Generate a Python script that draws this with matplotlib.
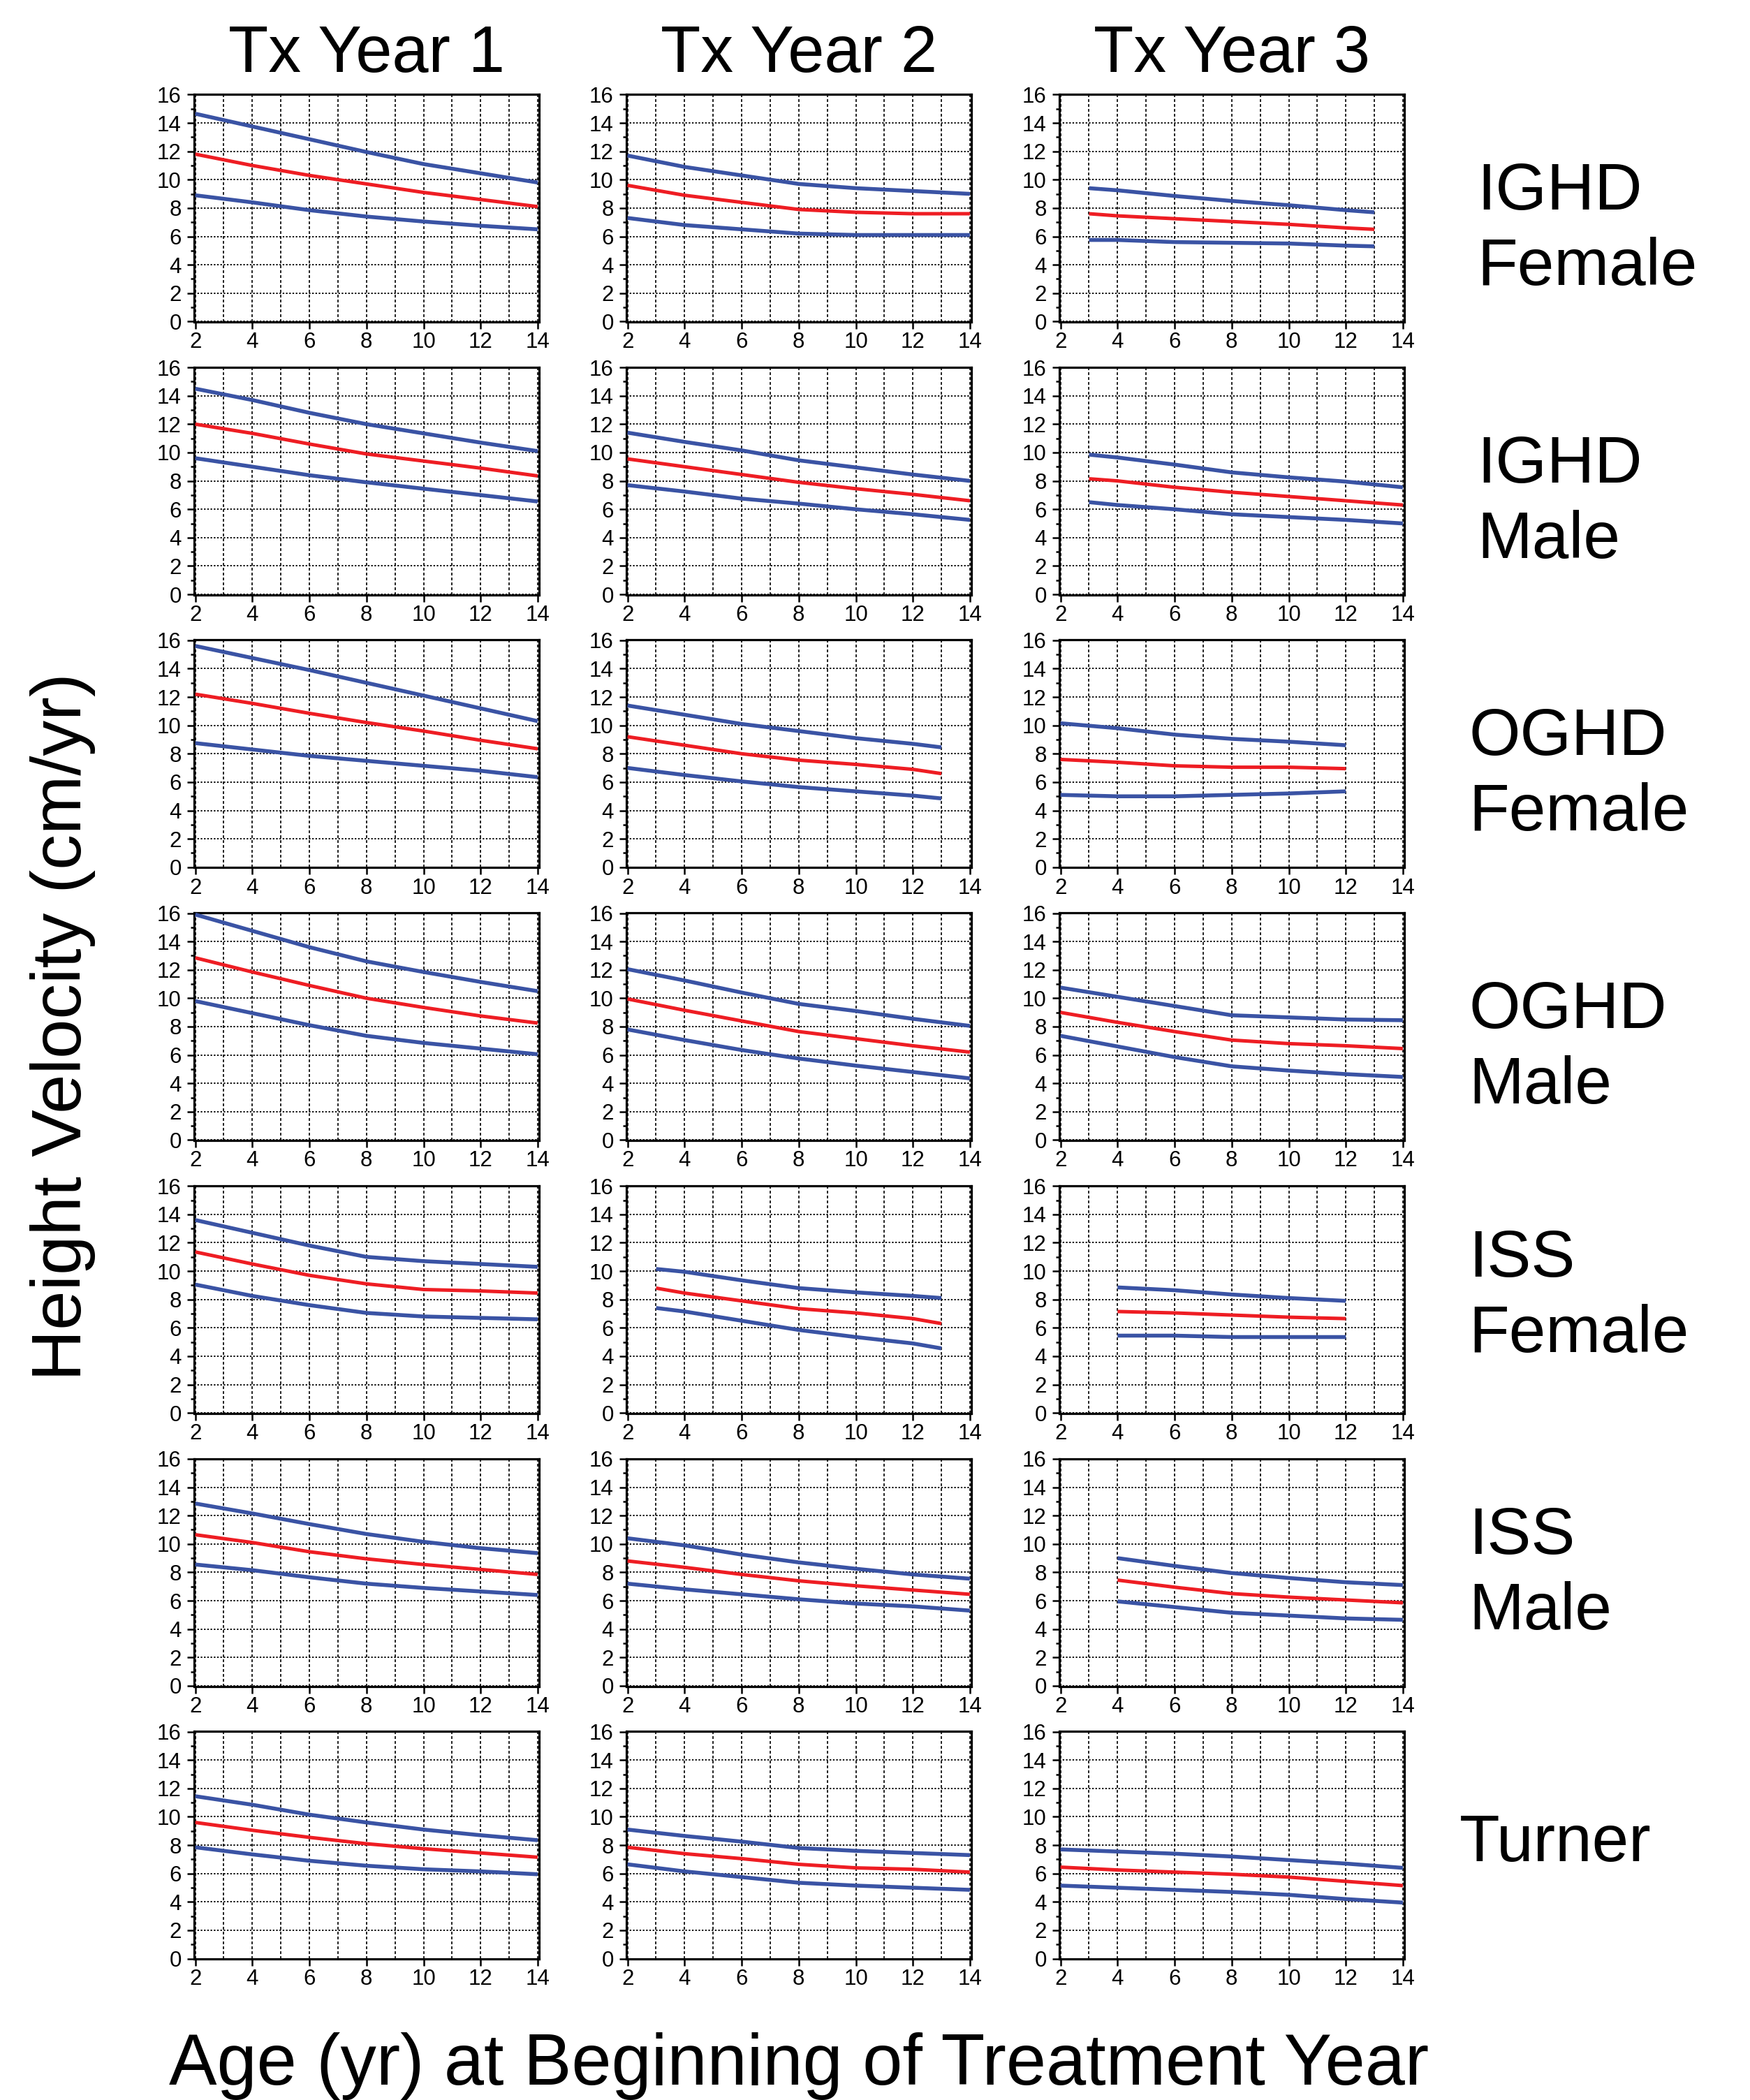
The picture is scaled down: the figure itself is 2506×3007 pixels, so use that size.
import numpy as np
import matplotlib
matplotlib.use("Agg")
import matplotlib.pyplot as plt
from matplotlib.ticker import MultipleLocator

plt.rcParams['font.family'] = ['Liberation Sans', 'DejaVu Sans']

# ---- data: (age, upper, median, lower) ----
A = [2, 4, 6, 8, 10, 12, 14]

# IGHD Female
ighd_f_1 = (A, [14.65, 13.75, 12.85, 11.95, 11.1, 10.45, 9.8], [11.8, 11.0, 10.3, 9.7, 9.1, 8.6, 8.1], [8.9, 8.4, 7.85, 7.4, 7.05, 6.75, 6.5])
ighd_f_2 = (A, [11.7, 10.9, 10.3, 9.7, 9.4, 9.2, 9.0], [9.6, 8.9, 8.4, 7.9, 7.7, 7.6, 7.6], [7.3, 6.8, 6.5, 6.2, 6.1, 6.1, 6.1])
ighd_f_3 = ([3, 4, 6, 8, 10, 12, 13], [9.4, 9.25, 8.85, 8.5, 8.2, 7.85, 7.7], [7.6, 7.45, 7.25, 7.05, 6.85, 6.6, 6.5], [5.75, 5.75, 5.6, 5.55, 5.5, 5.35, 5.3])
# IGHD Male
ighd_m_1 = (A, [14.5, 13.7, 12.8, 12.0, 11.35, 10.7, 10.1], [12.0, 11.35, 10.6, 9.9, 9.4, 8.9, 8.35], [9.6, 9.0, 8.4, 7.9, 7.45, 7.0, 6.55])
ighd_m_2 = (A, [11.4, 10.75, 10.15, 9.45, 8.95, 8.45, 8.0], [9.55, 9.0, 8.45, 7.9, 7.45, 7.05, 6.6], [7.7, 7.25, 6.75, 6.4, 6.0, 5.65, 5.25])
ighd_m_3 = ([3, 4, 6, 8, 10, 12, 14], [9.85, 9.65, 9.15, 8.6, 8.25, 7.95, 7.55], [8.15, 8.0, 7.55, 7.2, 6.9, 6.6, 6.3], [6.5, 6.3, 6.0, 5.65, 5.45, 5.25, 5.0])
# OGHD Female
oghd_f_1 = (A, [15.6, 14.75, 13.9, 13.0, 12.1, 11.2, 10.3], [12.2, 11.55, 10.85, 10.2, 9.6, 8.95, 8.35], [8.75, 8.3, 7.85, 7.5, 7.15, 6.8, 6.35])
oghd_f_2 = ([2, 4, 6, 8, 10, 12, 13], [11.4, 10.75, 10.1, 9.6, 9.1, 8.7, 8.45], [9.2, 8.6, 8.0, 7.55, 7.25, 6.9, 6.6], [7.0, 6.5, 6.05, 5.65, 5.35, 5.05, 4.85])
oghd_f_3 = ([2, 4, 6, 8, 10, 12], [10.15, 9.8, 9.35, 9.05, 8.85, 8.6], [7.6, 7.4, 7.15, 7.05, 7.05, 6.95], [5.1, 5.0, 5.0, 5.1, 5.2, 5.35])
# OGHD Male
oghd_m_1 = (A, [15.9, 14.75, 13.6, 12.6, 11.85, 11.15, 10.5], [12.85, 11.85, 10.9, 10.0, 9.35, 8.75, 8.25], [9.8, 8.95, 8.1, 7.35, 6.85, 6.45, 6.05])
oghd_m_2 = (A, [12.05, 11.25, 10.4, 9.6, 9.1, 8.55, 8.05], [9.95, 9.15, 8.4, 7.65, 7.15, 6.65, 6.2], [7.8, 7.05, 6.35, 5.75, 5.25, 4.8, 4.35])
oghd_m_3 = (A, [10.75, 10.1, 9.45, 8.8, 8.65, 8.5, 8.45], [9.0, 8.3, 7.65, 7.05, 6.8, 6.65, 6.45], [7.35, 6.6, 5.85, 5.2, 4.9, 4.65, 4.45])
# ISS Female
iss_f_1 = (A, [13.6, 12.7, 11.8, 11.0, 10.7, 10.5, 10.3], [11.35, 10.5, 9.7, 9.1, 8.7, 8.6, 8.45], [9.05, 8.25, 7.6, 7.05, 6.8, 6.7, 6.6])
iss_f_2 = ([3, 4, 6, 8, 10, 12, 13], [10.15, 9.95, 9.35, 8.8, 8.5, 8.25, 8.1], [8.8, 8.45, 7.9, 7.35, 7.05, 6.65, 6.3], [7.4, 7.15, 6.5, 5.85, 5.35, 4.9, 4.55])
iss_f_3 = ([4, 6, 8, 10, 12], [8.85, 8.65, 8.35, 8.1, 7.9], [7.15, 7.05, 6.9, 6.75, 6.65], [5.45, 5.45, 5.35, 5.35, 5.35])
# ISS Male
iss_m_1 = (A, [12.85, 12.15, 11.4, 10.7, 10.15, 9.7, 9.35], [10.65, 10.1, 9.45, 8.95, 8.55, 8.2, 7.85], [8.55, 8.15, 7.65, 7.2, 6.9, 6.65, 6.4])
iss_m_2 = (A, [10.4, 9.9, 9.25, 8.7, 8.25, 7.85, 7.55], [8.8, 8.35, 7.85, 7.4, 7.05, 6.75, 6.45], [7.2, 6.8, 6.45, 6.1, 5.8, 5.6, 5.3])
iss_m_3 = ([4, 6, 8, 10, 12, 14], [9.0, 8.45, 7.95, 7.6, 7.3, 7.1], [7.45, 6.95, 6.5, 6.25, 6.05, 5.85], [5.95, 5.55, 5.15, 4.95, 4.75, 4.65])
# Turner
turner_1 = (A, [11.45, 10.85, 10.15, 9.6, 9.1, 8.7, 8.35], [9.6, 9.05, 8.55, 8.1, 7.75, 7.45, 7.15], [7.85, 7.35, 6.9, 6.55, 6.3, 6.15, 5.95])
turner_2 = (A, [9.1, 8.65, 8.25, 7.8, 7.6, 7.45, 7.3], [7.85, 7.4, 7.05, 6.65, 6.4, 6.3, 6.1], [6.65, 6.15, 5.75, 5.35, 5.15, 5.0, 4.85])
turner_3 = (A, [7.7, 7.55, 7.4, 7.2, 6.95, 6.7, 6.4], [6.45, 6.25, 6.1, 5.95, 5.75, 5.45, 5.15], [5.15, 5.0, 4.85, 4.7, 4.5, 4.2, 3.95])

panels = [
    [ighd_f_1, ighd_f_2, ighd_f_3],
    [ighd_m_1, ighd_m_2, ighd_m_3],
    [oghd_f_1, oghd_f_2, oghd_f_3],
    [oghd_m_1, oghd_m_2, oghd_m_3],
    [iss_f_1, iss_f_2, iss_f_3],
    [iss_m_1, iss_m_2, iss_m_3],
    [turner_1, turner_2, turner_3],
]
col_titles = ["Tx Year 1", "Tx Year 2", "Tx Year 3"]
row_labels = [["IGHD", "Female"], ["IGHD", "Male"], ["OGHD", "Female"], ["OGHD", "Male"],
              ["ISS", "Female"], ["ISS", "Male"], ["Turner"]]

# ---- layout (pixels on the 2506x3007 canvas) ----
W, H = 2506, 3007
fig = plt.figure(figsize=(W / 100, H / 100), dpi=100)

col_left = [278, 897, 1517]
ax_w = 494
row_top = [135 + 390.7 * i for i in range(7)]
ax_h = 326
label_x = [2115, 2115, 2103, 2103, 2103, 2103, 2090]
label_base = [165, 165, 165, 165, 130, 136, 186]

BLUE = "#3a53a4"
RED = "#ee1d23"

for r in range(7):
    for c in range(3):
        ax = fig.add_axes([col_left[c] / W, 1 - (row_top[r] + ax_h) / H, ax_w / W, ax_h / H])
        age, hi, mid, lo = panels[r][c]
        ax.plot(age, hi, color=BLUE, lw=4.0, solid_capstyle='butt', zorder=3)
        ax.plot(age, lo, color=BLUE, lw=4.0, solid_capstyle='butt', zorder=3)
        ax.plot(age, mid, color=RED, lw=3.6, solid_capstyle='butt', zorder=4)

        ax.set_xlim(1.96, 14.05)
        ax.set_ylim(-0.03, 16.02)
        ax.xaxis.set_major_locator(MultipleLocator(2))
        ax.xaxis.set_minor_locator(MultipleLocator(1))
        ax.yaxis.set_major_locator(MultipleLocator(2))
        ax.yaxis.set_minor_locator(MultipleLocator(1))
        ax.tick_params(axis='both', which='major', direction='out', length=7.2, width=1.8,
                       labelsize=22.5, color='black')
        ax.tick_params(axis='x', which='major', pad=3)
        ax.tick_params(axis='y', which='major', pad=6)
        ax.tick_params(axis='x', which='minor', length=0)
        ax.tick_params(axis='y', which='minor', direction='out', length=3.6, width=1.8)
        ax.grid(axis='x', which='both', color='black', lw=1.2, ls=(0, (2.4, 1.8)))
        ax.grid(axis='y', which='major', color='black', lw=1.3, ls=(0, (1.3, 1.3)))
        ax.set_axisbelow(True)
        for sp in ax.spines.values():
            sp.set_linewidth(2.3)

    # row label
    for k, line in enumerate(row_labels[r]):
        fig.text(label_x[r] / W, 1 - (row_top[r] + label_base[r] + 108 * k) / H, line,
                 fontsize=68, ha='left', va='baseline')

for c in range(3):
    fig.text((col_left[c] + ax_w / 2) / W, 1 - 103 / H, col_titles[c],
             fontsize=67.5, ha='center', va='baseline')

fig.text(90 / W, 0.5 - (1470 - H / 2) / H, "Height Velocity (cm/yr)", rotation=90,
         fontsize=73, ha='center', va='center')
fig.text(1144 / W, 1 - 2985 / H, "Age (yr) at Beginning of Treatment Year",
         fontsize=74, ha='center', va='baseline')

fig.savefig("out.png", dpi=100, facecolor='white')
